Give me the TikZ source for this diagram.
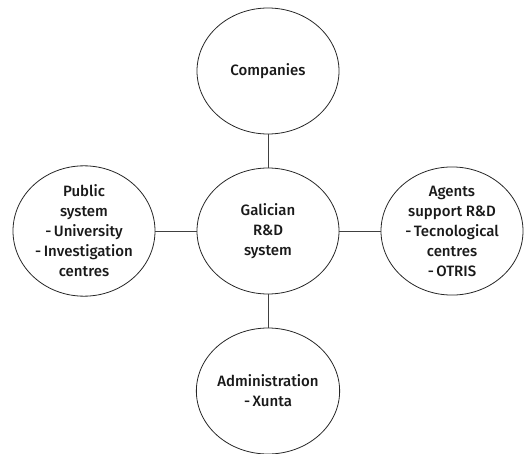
\documentclass[tikz,border=0pt]{standalone}
\usepackage{fontspec}
\setmainfont{Fira Sans}[UprightFont={* Medium}]
\usetikzlibrary{shapes.geometric}
\begin{document}
\begin{tikzpicture}[x=1pt,y=1pt,
  bubble/.style={draw=black!85, line width=0.8pt, ellipse, minimum width=142pt, minimum height=126pt, inner sep=0pt, align=center, font=\fontsize{15}{20}\selectfont, text=black!90},
  link/.style={draw=black!75, line width=0.9pt}]
\useasboundingbox (0,0) rectangle (529,453);
\node[bubble] (top) at (268,382) {Companies};
\node[bubble] (mid) at (268,222) {Galician\\R\&D\\system};
\node[bubble] (left) at (84,222) {Public\\system\\-\,University\\-\,Investigation\\centres};
\node[bubble] (right) at (452,222) {Agents\\support R\&D\\-\,Tecnological\\centres\\-\,OTRIS};
\node[bubble] (bot) at (268,62) {Administration\\-\,Xunta};
\draw[link] (top) -- (mid);
\draw[link] (left) -- (mid);
\draw[link] (mid) -- (right);
\draw[link] (mid) -- (bot);
\end{tikzpicture}
\end{document}
